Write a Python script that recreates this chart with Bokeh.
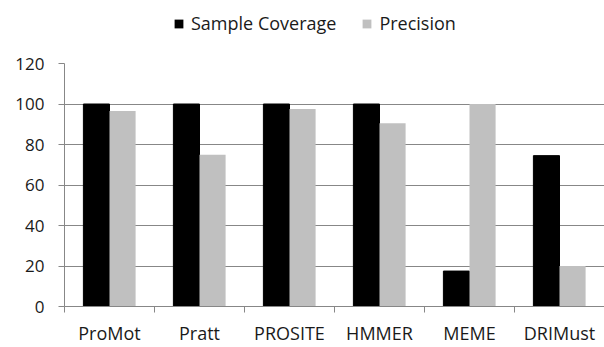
import numpy as np
from bokeh.plotting import figure
from bokeh.layouts import column
from bokeh.models import ColumnDataSource, FixedTicker, Range1d, Legend, LegendItem
from bokeh.embed import file_html
from bokeh.resources import INLINE

categories = ["ProMot", "Pratt", "PROSITE", "HMMER", "MEME", "DRIMust"]
sample_coverage = [100, 100, 100, 100, 17.5, 74.5]
precision = [96.5, 75, 97.5, 90.5, 100, 20]
series_names = ["Sample Coverage", "Precision"]
y_ticks = [0, 20, 40, 60, 80, 100, 120]

FONT = "Open Sans"
TXT = "#1a1a1a"
GRID = "#878787"
COL1 = "black"
COL2 = "#c0c0c0"

centers = np.arange(len(categories)) + 0.5
bw = 0.29
src = ColumnDataSource(dict(
    x1=centers - bw / 2, x2=centers + bw / 2,
    sc=sample_coverage, pr=precision))

# ---- legend strip (separate figure so nothing is clipped) ----
top = figure(width=604, height=45, output_backend="svg", toolbar_location=None,
             x_range=Range1d(0, 1), y_range=Range1d(0, 1),
             min_border=0, min_border_left=0, min_border_right=0,
             min_border_top=0, min_border_bottom=0)
top.axis.visible = False
top.grid.visible = False
top.outline_line_color = None
# legend-only renderers (zero-height, draw nothing themselves)
dummy = ColumnDataSource(dict(x=[0.5], top=[0.0]))
t1 = top.vbar(x="x", top="top", width=0.1, source=dummy, fill_color=COL1, line_color=None)
t2 = top.vbar(x="x", top="top", width=0.1, source=dummy, fill_color=COL2, line_color=None)
legend = Legend(items=[LegendItem(label=series_names[0], renderers=[t1]),
                       LegendItem(label=series_names[1], renderers=[t2])],
                orientation="horizontal", location=(109, 10),
                padding=0, margin=0, spacing=25, glyph_width=11, glyph_height=11,
                label_standoff=7, label_height=20, border_line_color=None,
                background_fill_alpha=0, label_text_font=FONT,
                label_text_font_size="18px", label_text_color=TXT)
top.add_layout(legend, "center")

# ---- main chart ----
p = figure(width=604, height=302, output_backend="svg", toolbar_location=None,
           x_range=Range1d(0, len(categories)), y_range=Range1d(0, 120),
           min_border_left=64, min_border_right=0, min_border_top=18,
           min_border_bottom=40)
p.outline_line_color = None
p.background_fill_color = "white"
p.border_fill_color = "white"

p.vbar(x="x1", top="sc", width=bw, source=src, fill_color=COL1,
       line_color=COL1, line_width=1)
p.vbar(x="x2", top="pr", width=bw, source=src, fill_color=COL2,
       line_color=None)

# x axis: labels at centres, ticks at category boundaries
xa = p.xaxis[0]
xa.ticker = FixedTicker(ticks=list(centers), minor_ticks=list(range(len(categories) + 1)))
xa.major_label_overrides = {float(c): n for c, n in zip(centers, categories)}
xa.major_tick_line_color = None
xa.minor_tick_line_color = GRID
xa.minor_tick_out = 6
xa.minor_tick_in = 0
xa.axis_line_color = GRID
xa.major_label_text_font = FONT
xa.major_label_text_font_size = "18px"
xa.major_label_text_color = TXT
xa.major_label_standoff = 8

ya = p.yaxis[0]
ya.ticker = FixedTicker(ticks=y_ticks)
ya.minor_tick_line_color = None
ya.major_tick_line_color = GRID
ya.major_tick_out = 6
ya.major_tick_in = 0
ya.axis_line_color = GRID
ya.major_label_text_font = FONT
ya.major_label_text_font_size = "17px"
ya.major_label_text_color = TXT
ya.major_label_standoff = 14

p.xgrid.grid_line_color = None
p.ygrid.grid_line_color = GRID
p.ygrid.grid_line_width = 1

layout = column(top, p, spacing=0)
open("out.html", "w").write(file_html(layout, INLINE))
